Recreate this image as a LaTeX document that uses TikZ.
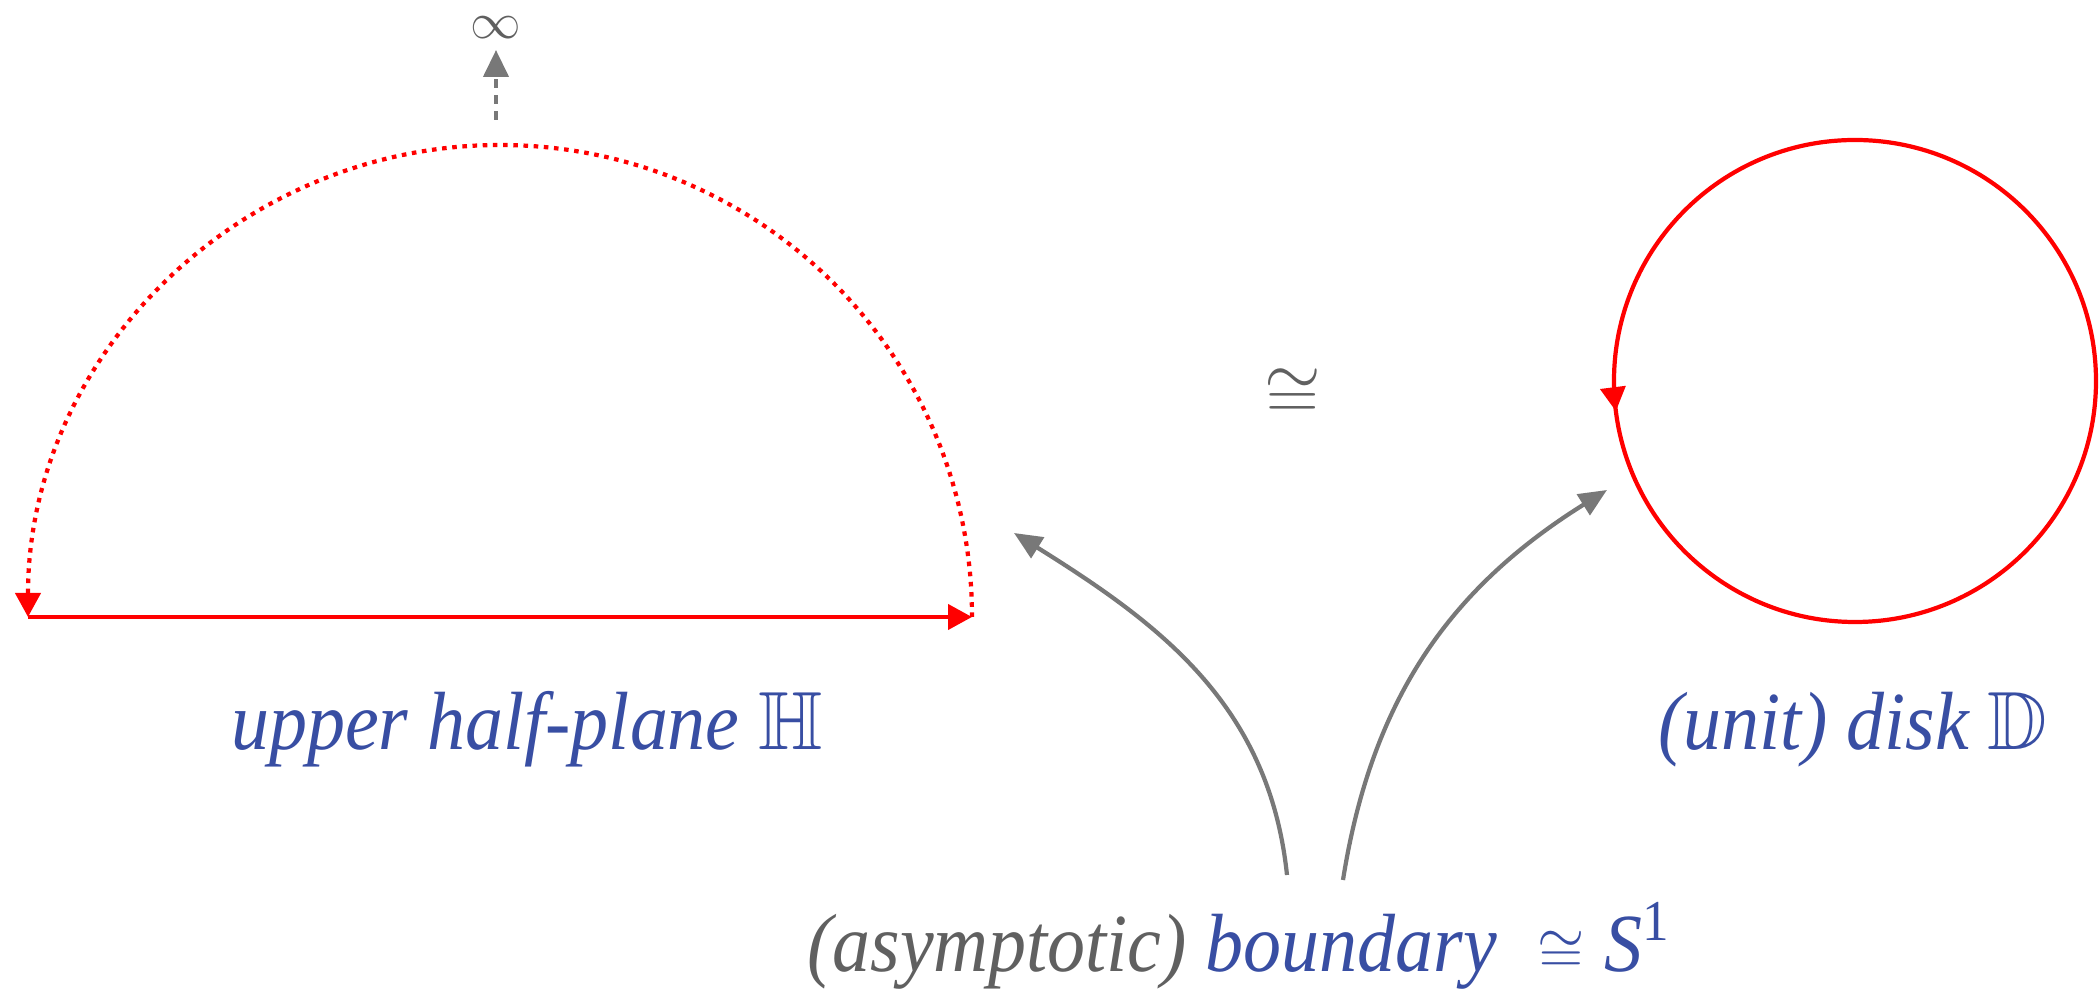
\documentclass[tikz,border=0pt]{standalone}
\usepackage{amssymb}
\usepackage{fontspec}
\setmainfont{Liberation Serif}[FakeStretch=0.92]
\usetikzlibrary{arrows.meta,decorations.markings}
\definecolor{labelblue}{RGB}{56,78,163}
\definecolor{labelgray}{RGB}{96,96,96}
\definecolor{arrowgray}{RGB}{120,120,120}

\begin{document}
\begin{tikzpicture}[>={Triangle[length=0.24cm,width=0.25cm]}, line width=1.2pt,
  title/.style={font=\fontsize{23.5}{28}\selectfont\itshape, text=labelblue, anchor=base, inner sep=0pt},
  bdry/.style={draw=red},
  link/.style={draw=arrowgray, ->, >={Triangle[length=0.28cm,width=0.24cm]}}]
\useasboundingbox (0,0) rectangle (21,9.9);
% upper half-plane
\coordinate (hpL) at (0.28,3.73);
\coordinate (hpR) at (9.72,3.73);
\draw[bdry, ->] (hpL) -- (hpR);
\draw[bdry, ->, dash pattern=on 1.3pt off 1.6pt] (hpR) arc[start angle=0, end angle=180, radius=4.72];
\node[text=labelgray, font=\fontsize{14}{14}\selectfont, inner sep=0pt] (inf) at (4.96,9.62) {$\infty$};
\coordinate (infFoot) at (4.96,8.70);
\coordinate (infTip) at (4.96,9.40);
\draw[link, dash pattern=on 2.6pt off 2pt, >={Triangle[length=0.27cm,width=0.25cm]}] (infFoot) -- (infTip);
% disk
\coordinate (dk) at (18.55,6.09);
\draw[bdry, postaction={decorate},
  decoration={markings, mark=at position 0.52 with {\arrow{>}}}] (dk) circle[radius=2.41];
\node[text=labelgray, font=\fontsize{21}{21}\selectfont] (iso) at (12.93,5.96) {$\cong$};
% labels
\node[title] (hplabel) at (5.27,2.40) {upper half-plane $\mathbb{H}$};
\node[title] (dklabel) at (18.53,2.40) {(unit) disk $\mathbb{D}$};
\node[title] (bdlabel) at (12.39,0.18) {\textcolor{labelgray}{(asymptotic)} boundary\hspace{0.4cm}{\fontsize{18.5}{18.5}\selectfont$\cong$}\hspace{0.2cm}\textit{S}\textsuperscript{\upshape 1}};
% boundary arrows
\coordinate (fromH) at (12.87,1.15);
\coordinate (toH) at (10.14,4.57);
\coordinate (fromD) at (13.43,1.10);
\coordinate (toD) at (16.07,5.00);
\draw[link] (fromH) to[out=96, in=-32] (toH);
\draw[link] (fromD) to[out=81, in=212] (toD);
\end{tikzpicture}
\end{document}
